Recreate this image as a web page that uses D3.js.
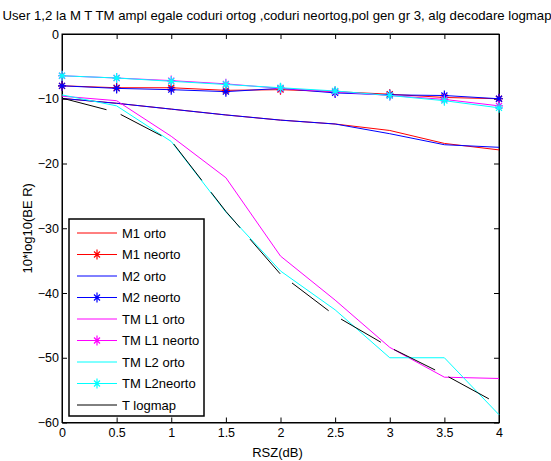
<!DOCTYPE html>
<html>
<head>
<meta charset="utf-8">
<script src="https://cdn.jsdelivr.net/npm/d3@7"></script>
<style>
body { margin: 0; background: #fff; }
text { font-family: Arial, "Liberation Sans", sans-serif; }
</style>
</head>
<body>
<div id="chart"></div>
<script>
var width = 551;
var height = 461;

// data
var rsz = [0, 0.5, 1, 1.5, 2, 2.5, 3, 3.5, 4];
var m1Orto = [-9.95, -10.7, -11.6, -12.5, -13.3, -13.9, -14.9, -16.9, -17.9];
var m1Neorto = [-8.0, -8.3, -8.3, -8.7, -8.6, -8.9, -9.3, -9.8, -10.0];
var m2Orto = [-9.95, -10.7, -11.6, -12.5, -13.3, -13.9, -15.4, -17.1, -17.5];
var m2Neorto = [-8.0, -8.4, -8.6, -8.9, -8.4, -9.1, -9.4, -9.5, -10.0];
var tmL1Orto = [-9.6, -10.3, -15.8, -22.2, -34.3, -41.1, -48.4, -53.0, -53.2];
var tmL1Neorto = [-6.45, -6.8, -7.2, -7.7, -8.4, -8.9, -9.5, -10.1, -11.1];
var tmL2Orto = [-9.4, -11.1, -16.6, -27.5, -36.6, -42.6, -50.0, -50.0, -58.8];
var tmL2Neorto = [-6.45, -6.8, -7.3, -7.8, -8.3, -8.8, -9.5, -10.3, -11.4];
var tLogmap = [-9.9, -12.1, -16.5, -27.4, -37.1, -43.5, -48.4, -52.6, -57.2];

var xTicks = [0, 0.5, 1, 1.5, 2, 2.5, 3, 3.5, 4];
var yTicks = [0, -10, -20, -30, -40, -50, -60];

var series = [
	{ name: "M1 orto", values: m1Orto, color: "#ff0000", star: false },
	{ name: "M1 neorto", values: m1Neorto, color: "#ff0000", star: true },
	{ name: "M2 orto", values: m2Orto, color: "#0000ff", star: false },
	{ name: "M2 neorto", values: m2Neorto, color: "#0000ff", star: true },
	{ name: "TM L1 orto", values: tmL1Orto, color: "#ff00ff", star: false },
	{ name: "TM L1 neorto", values: tmL1Neorto, color: "#ff00ff", star: true },
	{ name: "TM L2 orto", values: tmL2Orto, color: "#00ffff", star: false },
	{ name: "TM L2neorto", values: tmL2Neorto, color: "#00ffff", star: true },
	{ name: "T logmap", values: tLogmap, color: "#000000", star: false, dash: "46,15" },
];

var margins = { left: 62, right: 52, top: 34, bottom: 38.5 };
var chartWidth = width - margins.left - margins.right;
var chartHeight = height - margins.top - margins.bottom;

var svg = d3
	.select("#chart")
	.append("svg")
	.attr("width", width)
	.attr("height", height);

var chartGroup = svg
	.append("g")
	.attr("transform", `translate(${margins.left},${margins.top})`);

var xscale = d3.scaleLinear().domain([0, 4]).range([0, chartWidth]);
var yscale = d3.scaleLinear().domain([-60, 0]).range([chartHeight, 0]);

// axes, ticks pointing inward like matlab
chartGroup
	.append("g")
	.attr("transform", `translate(0,${chartHeight})`)
	.call(d3.axisBottom(xscale).tickValues(xTicks).tickSizeInner(-5).tickSizeOuter(0).tickPadding(6).tickFormat(d3.format("")));
chartGroup
	.append("g")
	.call(d3.axisTop(xscale).tickValues(xTicks).tickSizeInner(-5).tickSizeOuter(0).tickFormat(""));
chartGroup
	.append("g")
	.call(d3.axisLeft(yscale).tickValues(yTicks).tickSizeInner(-5).tickSizeOuter(0).tickPadding(3));
chartGroup
	.append("g")
	.attr("transform", `translate(${chartWidth},0)`)
	.call(d3.axisRight(yscale).tickValues(yTicks).tickSizeInner(-5).tickSizeOuter(0).tickFormat(""));

chartGroup.selectAll(".domain").attr("stroke", "#000");
chartGroup.selectAll(".tick line").attr("stroke", "#000");
chartGroup.selectAll(".tick text").attr("font-size", "12.5px").attr("fill", "#000");

chartGroup
	.append("rect")
	.attr("width", chartWidth)
	.attr("height", chartHeight)
	.attr("fill", "none")
	.attr("stroke", "#000");

var line = d3
	.line()
	.x((d, i) => xscale(rsz[i]))
	.y((d) => yscale(d));

function starPath(s) {
	var h = s / 2;
	var d = h * 0.6;
	return `M${-h * 0.8},0L${h * 0.8},0M0,${-h}L0,${h}M${-d},${-d}L${d},${d}M${-d},${d}L${d},${-d}`;
}

series.forEach(function (s) {
	chartGroup
		.append("path")
		.attr("d", line(s.values))
		.attr("fill", "none")
		.attr("stroke", s.color)
		.attr("stroke-width", 1)
		.attr("stroke-dasharray", s.dash || null);
	if (s.star) {
		chartGroup
			.selectAll(null)
			.data(s.values)
			.enter()
			.append("path")
			.attr("transform", (d, i) => `translate(${xscale(rsz[i])},${yscale(d)})`)
			.attr("d", starPath(10))
			.attr("fill", "none")
			.attr("stroke", s.color)
			.attr("stroke-width", 1.2);
	}
});

// legend
var legend = svg.append("g").attr("transform", "translate(69,219)");
legend
	.append("rect")
	.attr("width", 135)
	.attr("height", 197)
	.attr("fill", "#fff")
	.attr("stroke", "#000")
	.attr("stroke-width", 1.5);

series.forEach(function (s, i) {
	var y = 14 + i * 21.5;
	legend
		.append("line")
		.attr("x1", 8)
		.attr("x2", 48)
		.attr("y1", y)
		.attr("y2", y)
		.attr("stroke", s.color);
	if (s.star) {
		legend
			.append("path")
			.attr("transform", `translate(28,${y})`)
			.attr("d", starPath(10))
			.attr("fill", "none")
			.attr("stroke", s.color)
			.attr("stroke-width", 1.2);
	}
	legend
		.append("text")
		.attr("x", 53)
		.attr("y", y + 4.5)
		.attr("font-size", "13px")
		.text(s.name);
});

// title and axis labels
svg
	.append("text")
	.attr("x", 277)
	.attr("y", 20)
	.attr("text-anchor", "middle")
	.attr("font-size", "13.2px")
	.text("User 1,2 la M T TM ampl egale coduri ortog ,coduri neortog,pol gen gr 3, alg decodare logmap");

svg
	.append("text")
	.attr("x", margins.left + chartWidth / 2 - 3)
	.attr("y", 457)
	.attr("text-anchor", "middle")
	.attr("font-size", "13px")
	.text("RSZ(dB)");

svg
	.append("text")
	.attr("transform", `translate(32,${margins.top + chartHeight / 2}) rotate(-90)`)
	.attr("text-anchor", "middle")
	.attr("font-size", "13px")
	.text("10*log10(BE R)");
</script>
</body>
</html>
